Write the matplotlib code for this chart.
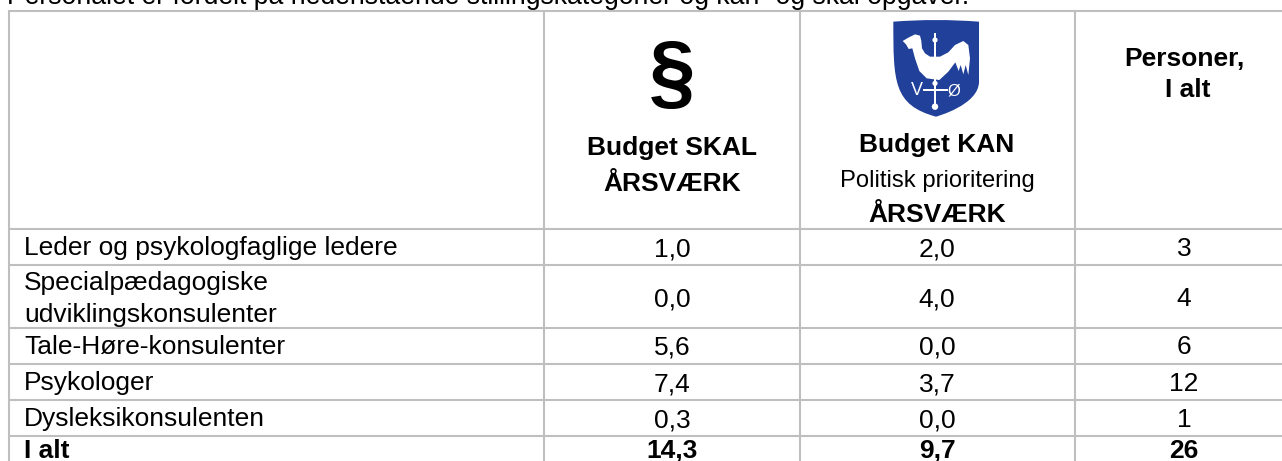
import matplotlib
matplotlib.use("Agg")
import matplotlib.pyplot as plt
from matplotlib.patches import Polygon, Circle, Rectangle, PathPatch
from matplotlib.path import Path

intro = "Personalet er fordelt på nedenstående stillingskategorier og kan- og skal opgaver."
categories = ["Leder og psykologfaglige ledere",
              "Specialpædagogiske\nudviklingskonsulenter",
              "Tale-Høre-konsulenter", "Psykologer", "Dysleksikonsulenten"]
total_label = "I alt"
skal = ["1,0", "0,0", "5,6", "7,4", "0,3"]
kan = ["2,0", "4,0", "0,0", "3,7", "0,0"]
personer = ["3", "4", "6", "12", "1"]
totals = ["14,3", "9,7", "26"]

W, H = 1282, 461
FONT = "Liberation Sans"
SIZE = 19.0
GRID = "#BFBFBF"
BLUE = "#20409A"

fig = plt.figure(figsize=(W / 100, H / 100), dpi=100)
ax = fig.add_axes([0, 0, 1, 1])
ax.set_xlim(0, W)
ax.set_ylim(H, 0)
ax.axis("off")

h_lines = [11, 229, 265, 328, 364, 400, 436]
v_lines = [9, 544, 800, 1075]
for y in h_lines:
    ax.plot([8, W], [y, y], color=GRID, lw=1.5, solid_capstyle="butt")
for x in v_lines:
    ax.plot([x, x], [10, H], color=GRID, lw=1.5, solid_capstyle="butt")


def txt(x, y, s, ha="center", bold=False, size=SIZE, **kw):
    ax.text(x, y, s, ha=ha, va="baseline", family=FONT, color="black",
            fontsize=size, fontweight="bold" if bold else "normal", **kw)


txt(7, 4, intro, ha="left", size=19.2)

# header
txt(672, 100, "§", bold=True, size=60)
txt(672, 155, "Budget SKAL", bold=True)
txt(672, 191, "ÅRSVÆRK", bold=True)
txt(937, 152, "Budget KAN", bold=True)
txt(937, 187, "Politisk prioritering", size=17.1)
txt(937, 222, "ÅRSVÆRK", bold=True)
txt(1184, 66, "Personer,", bold=True)
txt(1188, 97, "I alt", bold=True)

# coat of arms, drawn in the crop's own pixel coordinates
def z(x, y):
    return (880 + x / 3, 15 + y / 3)


shield = Path(
    [z(40, 20), z(168, 10), z(297, 20), z(297, 200), z(297, 270), z(168, 305),
     z(168, 305), z(40, 270), z(40, 200), z(40, 20)],
    [Path.MOVETO, Path.CURVE3, Path.CURVE3, Path.LINETO, Path.CURVE4, Path.CURVE4,
     Path.CURVE4, Path.CURVE4, Path.CURVE4, Path.CURVE4])
ax.add_patch(PathPatch(shield, fc=BLUE, ec="none"))
rooster = [(68, 78), (85, 68), (105, 58), (120, 62), (124, 78), (126, 100), (135, 115),
           (150, 125), (180, 125), (205, 112), (225, 90), (250, 78), (265, 90), (270, 130),
           (265, 180), (257, 150), (250, 178), (242, 150), (236, 168), (226, 142),
           (205, 170), (178, 195), (140, 190), (118, 168), (105, 130), (97, 100),
           (86, 102), (78, 88)]
ax.add_patch(Polygon([z(*p) for p in rooster], closed=True, fc="white", ec="none"))
for (x0, y0, x1, y1) in [(163, 55, 168, 280), (130, 223, 205, 227)]:
    ax.add_patch(Rectangle(z(x0, y0), (x1 - x0) / 3, (y1 - y0) / 3, fc="white", ec="none"))
ax.add_patch(Circle(z(165, 75), 2.6, fc="white", ec="none"))
ax.add_patch(Circle(z(165, 205), 2.6, fc="white", ec="none"))
ax.add_patch(Circle(z(165, 275), 3.2, fc="white", ec="none"))
vx, vy = z(110, 240)
ox, oy = z(222, 240)
ax.text(vx, vy, "V", ha="center", va="baseline", family=FONT, color="white", fontsize=13)
ax.text(ox, oy, "Ø", ha="center", va="baseline", family=FONT, color="white", fontsize=12)

# body
label_base = [255, None, 354, 390, 426]
num_base = [256, 306, 354, 391, 427]
col_x = [672, 937, 1184]
for i, cat in enumerate(categories):
    if "\n" in cat:
        a, b = cat.split("\n")
        txt(24, 290, a, ha="left")
        txt(24, 322, b, ha="left")
    else:
        txt(24, label_base[i], cat, ha="left")
    for x, col in zip(col_x, (skal, kan, personer)):
        txt(x, num_base[i], col[i])

txt(24, 458, total_label, ha="left", bold=True)
for x, t in zip(col_x, totals):
    txt(x, 458, t, bold=True)

fig.savefig("out.png", dpi=100)
